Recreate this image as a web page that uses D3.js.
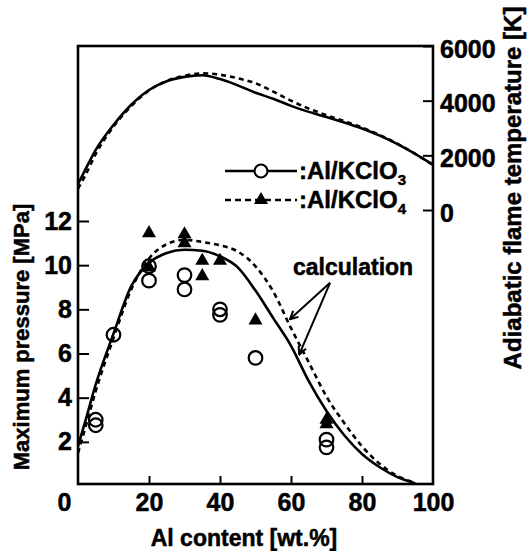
<!DOCTYPE html>
<html>
<head>
<meta charset="utf-8">
<script src="https://cdn.jsdelivr.net/npm/d3@7"></script>
<style>
    body { margin: 0; background: #fff; }
    svg { display: block; font-family: "Liberation Sans", Arial, sans-serif; font-weight: bold; }
    svg text { stroke: #000; stroke-width: 0.5px; }
</style>
</head>
<body>
<svg id="chart" width="527" height="551"></svg>
<script>
// calculated adiabatic flame temperature [K]
var calcAl = [0, 2, 5, 10, 15, 20, 25, 30, 35, 40, 45, 50, 55, 60, 65, 70, 75, 80, 85, 90, 95, 100];
var tempKClO3 = [950, 1460, 2200, 3110, 3850, 4390, 4710, 4870, 4930, 4790, 4560, 4290, 4070, 3810, 3590, 3400, 3200, 2980, 2720, 2410, 2050, 1650];
var tempKClO4 = [780, 1250, 2050, 3050, 3800, 4370, 4720, 4910, 5000, 4950, 4820, 4640, 4330, 4000, 3710, 3470, 3250, 3020, 2740, 2420, 2050, 1650];

// calculated maximum pressure [MPa]
var pressAl = [0, 2, 5, 10, 15, 20, 25, 30, 35, 40, 45, 50, 55, 60, 65, 70, 75, 80, 85, 90, 95];
var pressKClO3 = [1.8, 2.9, 4.6, 6.9, 9.05, 10.1, 10.55, 10.7, 10.65, 10.4, 9.9, 8.85, 7.6, 6.35, 4.75, 3.4, 2.3, 1.45, 0.85, 0.4, 0.12];
var pressKClO4 = [1.5, 2.6, 4.3, 6.7, 8.9, 10.3, 10.95, 11.15, 11.05, 10.9, 10.62, 9.95, 8.8, 7.15, 5.6, 4.05, 2.85, 1.8, 1.0, 0.45, 0.15];

// measured maximum pressure
var expKClO3Al = [5, 5, 10, 20, 20, 30, 30, 40, 40, 50, 70, 70];
var expKClO3P = [3.0, 2.75, 6.85, 9.95, 9.3, 9.55, 8.9, 8.0, 7.75, 5.8, 2.1, 1.75];
var expKClO4Al = [20, 20, 30, 30, 35, 35, 40, 50, 70, 70];
var expKClO4P = [11.45, 9.9, 11.4, 11.0, 10.2, 9.5, 10.2, 7.5, 3.0, 2.8];

var xTicks = [0, 20, 40, 60, 80, 100];
var pTicks = [2, 4, 6, 8, 10, 12];
var tTicks = [0, 2000, 4000, 6000];

// "calculation" note: text anchor and arrow heads, in data units (Al, MPa)
var noteFrom = [71, 9.2];
var noteTo = [[59.7, 7.55], [62.3, 5.95]];

(function () {
    var svg = d3.select("#chart");
    var left = 78, right = 433, top = 46, bottom = 484;

    var x = d3.scaleLinear().domain([0, 100]).range([left, right]);
    var yP = d3.scaleLinear().domain([0, 12]).range([486, 221]);
    var yT = d3.scaleLinear().domain([0, 6000]).range([210, top]);

    var toPts = function (xs, ys) { return xs.map(function (d, i) { return [d, ys[i]]; }); };

    svg.append("defs").append("clipPath").attr("id", "clip")
        .append("rect").attr("x", left).attr("y", top).attr("width", right - left).attr("height", bottom - top);

    svg.select("defs").append("marker")
        .attr("id", "head")
        .attr("viewBox", "0 0 10 10")
        .attr("refX", 9).attr("refY", 5)
        .attr("markerWidth", 10).attr("markerHeight", 10)
        .attr("markerUnits", "userSpaceOnUse")
        .attr("orient", "auto")
        .append("path")
        .attr("d", "M1,1 L9,5 L1,9")
        .attr("fill", "none").attr("stroke", "#000").attr("stroke-width", 2);

    var plot = svg.append("g").attr("clip-path", "url(#clip)");

    var lineT = d3.line().x(function (d) { return x(d[0]); }).y(function (d) { return yT(d[1]); }).curve(d3.curveMonotoneX);
    var lineP = d3.line().x(function (d) { return x(d[0]); }).y(function (d) { return yP(d[1]); }).curve(d3.curveMonotoneX);

    var curves = [
        { pts: toPts(calcAl, tempKClO3), line: lineT, dash: null },
        { pts: toPts(calcAl, tempKClO4), line: lineT, dash: "5,4" },
        { pts: toPts(pressAl, pressKClO3), line: lineP, dash: null },
        { pts: toPts(pressAl, pressKClO4), line: lineP, dash: "5,4" }
    ];

    plot.selectAll("path.curve")
        .data(curves)
        .enter()
        .append("path")
        .attr("class", "curve")
        .attr("d", function (d) { return d.line(d.pts); })
        .attr("fill", "none")
        .attr("stroke", "#000")
        .attr("stroke-width", 2.6)
        .attr("stroke-dasharray", function (d) { return d.dash; });

    plot.selectAll("circle.exp")
        .data(toPts(expKClO3Al, expKClO3P))
        .enter()
        .append("circle")
        .attr("class", "exp")
        .attr("cx", function (d) { return x(d[0]); })
        .attr("cy", function (d) { return yP(d[1]); })
        .attr("r", 6.8)
        .attr("fill", "none")
        .attr("stroke", "#000")
        .attr("stroke-width", 2.2);

    var tri = d3.symbol().type(d3.symbolTriangle).size(85);
    plot.selectAll("path.exp")
        .data(toPts(expKClO4Al, expKClO4P))
        .enter()
        .append("path")
        .attr("class", "exp")
        .attr("d", tri)
        .attr("transform", function (d) { return "translate(" + x(d[0]) + "," + yP(d[1]) + ")"; })
        .attr("fill", "#000");

    // axes
    var ax = svg.append("g").attr("transform", "translate(0," + bottom + ")")
        .call(d3.axisBottom(x).tickValues(xTicks).tickSizeInner(-8).tickSizeOuter(0).tickPadding(9));
    ax.selectAll(".tick").filter(function (d) { return d === 0; }).select("text").attr("x", -14);
    ax.selectAll(".tick").filter(function (d) { return d === 0 || d === 100; }).select("line").remove();

    var ayP = svg.append("g").attr("transform", "translate(" + left + ",0)")
        .call(d3.axisLeft(yP).tickValues(pTicks).tickSizeInner(-11).tickSizeOuter(0).tickPadding(6));

    var ayT = svg.append("g").attr("transform", "translate(" + right + ",0)")
        .call(d3.axisRight(yT).tickValues(tTicks).tickFormat(d3.format("d"))
            .tickSizeInner(-10).tickSizeOuter(0).tickPadding(7));
    ayT.selectAll("text").attr("dy", "0.45em");

    [ax, ayP, ayT].forEach(function (g) {
        g.select(".domain").remove();
        g.attr("font-family", null).attr("font-size", 25);
        g.selectAll("line").attr("stroke", "#000").attr("stroke-width", 2);
        g.selectAll("text").attr("fill", "#000");
    });

    svg.append("rect")
        .attr("x", left).attr("y", top)
        .attr("width", right - left).attr("height", bottom - top)
        .attr("fill", "none").attr("stroke", "#000").attr("stroke-width", 2.6);

    // titles
    svg.append("text")
        .attr("x", 244).attr("y", 546)
        .attr("text-anchor", "middle").attr("font-size", 23)
        .text("Al content [wt.%]");

    svg.append("text")
        .attr("transform", "translate(29,337) rotate(-90)")
        .attr("text-anchor", "middle").attr("font-size", 22)
        .text("Maximum pressure [MPa]");

    svg.append("text")
        .attr("transform", "translate(521,188) rotate(-90)")
        .attr("text-anchor", "middle").attr("font-size", 24)
        .text("Adiabatic flame temperature [K]");

    // legend
    var legend = svg.append("g");
    var rows = [
        { y: 171, dash: null, sub: "3", mark: "circle" },
        { y: 200, dash: "6,4", sub: "4", mark: "tri" }
    ];
    rows.forEach(function (r) {
        legend.append("line")
            .attr("x1", 225).attr("x2", 297).attr("y1", r.y).attr("y2", r.y)
            .attr("stroke", "#000").attr("stroke-width", 2.6)
            .attr("stroke-dasharray", r.dash);
        if (r.mark === "circle") {
            legend.append("circle").attr("cx", 261).attr("cy", r.y).attr("r", 6.5)
                .attr("fill", "#fff").attr("stroke", "#000").attr("stroke-width", 2.2);
        } else {
            legend.append("path").attr("d", tri)
                .attr("transform", "translate(261," + r.y + ")").attr("fill", "#000");
        }
        var t = legend.append("text").attr("x", 299).attr("y", r.y + 8).attr("font-size", 24);
        t.append("tspan").text(":Al/KClO");
        t.append("tspan").attr("font-size", 15).attr("dy", 6).text(r.sub);
    });

    // "calculation" note
    svg.append("text")
        .attr("x", 293).attr("y", 275).attr("font-size", 23)
        .text("calculation");

    svg.selectAll("line.note")
        .data(noteTo)
        .enter()
        .append("line")
        .attr("class", "note")
        .attr("x1", x(noteFrom[0])).attr("y1", yP(noteFrom[1]))
        .attr("x2", function (d) { return x(d[0]); })
        .attr("y2", function (d) { return yP(d[1]); })
        .attr("stroke", "#000").attr("stroke-width", 2)
        .attr("marker-end", "url(#head)");
})();
</script>
</body>
</html>
